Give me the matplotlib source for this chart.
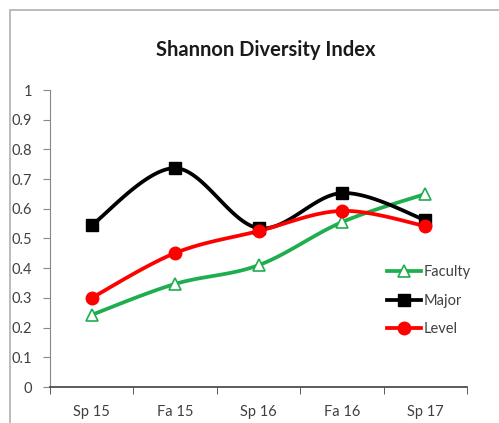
import numpy as np
import matplotlib
matplotlib.use("Agg")
import matplotlib.pyplot as plt
from matplotlib.patches import Rectangle

categories = ["Sp 15", "Fa 15", "Sp 16", "Fa 16", "Sp 17"]
faculty = [0.243, 0.347, 0.410, 0.555, 0.650]
major = [0.545, 0.737, 0.535, 0.653, 0.562]
level = [0.300, 0.451, 0.525, 0.593, 0.542]
yticks = [0, 0.1, 0.2, 0.3, 0.4, 0.5, 0.6, 0.7, 0.8, 0.9, 1]
ytick_labels = ["0", "0.1", "0.2", "0.3", "0.4", "0.5", "0.6", "0.7", "0.8", "0.9", "1"]

plt.rcParams['font.family'] = ['Lato', 'DejaVu Sans']

W, H = 499, 423
fig = plt.figure(figsize=(W / 100, H / 100), dpi=100)

# outer chart border
fig.patches.append(Rectangle((10 / W, -0.1), 1.2, (H - 10) / H + 0.1, transform=fig.transFigure,
                             fill=False, edgecolor='#b0b0b0', linewidth=1.2))

ax = fig.add_axes([50 / W, (H - 387) / H, (467 - 50) / W, (387 - 90) / H])


def smooth(x, y, n=30):
    x = np.asarray(x, float)
    y = np.asarray(y, float)
    px = np.concatenate([[x[0]], x, [x[-1]]])
    py = np.concatenate([[y[0]], y, [y[-1]]])
    xs, ys = [], []
    t = np.linspace(0, 1, n)
    for i in range(1, len(x)):
        p0 = np.array([px[i], py[i]])
        p3 = np.array([px[i + 1], py[i + 1]])
        c1 = p0 + (np.array([px[i + 1], py[i + 1]]) - np.array([px[i - 1], py[i - 1]])) / 6
        c2 = p3 - (np.array([px[i + 2], py[i + 2]]) - np.array([px[i], py[i]])) / 6
        b = ((1 - t) ** 3)[:, None] * p0 + (3 * (1 - t) ** 2 * t)[:, None] * c1 + \
            (3 * (1 - t) * t ** 2)[:, None] * c2 + (t ** 3)[:, None] * p3
        xs.extend(b[:, 0])
        ys.extend(b[:, 1])
    return np.array(xs), np.array(ys)


xpos = np.arange(len(categories))
green = '#1fae4f'
series = [
    ("Faculty", faculty, green, '^', dict(markerfacecolor='white', markeredgecolor=green, markersize=9, markeredgewidth=1.2)),
    ("Major", major, 'black', 's', dict(markerfacecolor='black', markeredgecolor='black', markersize=9)),
    ("Level", level, '#ff0000', 'o', dict(markerfacecolor='#ff0000', markeredgecolor='#ff0000', markersize=9)),
]
handles = []
for name, vals, col, mk, kw in series:
    sx, sy = smooth(xpos, vals)
    ax.plot(sx, sy, color=col, linewidth=2.7, zorder=2)
    ax.plot(xpos, vals, linestyle='none', marker=mk, zorder=3, **kw)
    h, = ax.plot([], [], color=col, linewidth=2.7, marker=mk, **kw)
    handles.append((h, name))

ax.set_xlim(-0.5, len(categories) - 0.5)
ax.set_ylim(0, 1)
ax.set_yticks(yticks)
ax.set_yticklabels(ytick_labels)
ax.set_xticks(xpos)
ax.set_xticklabels(categories)
ax.set_xticks(np.arange(-0.5, len(categories)), minor=True)
ax.tick_params(axis='x', which='major', length=0, pad=13, labelsize=10.5, labelcolor='#404040')
ax.tick_params(axis='x', which='minor', length=5, direction='out', color='#404040')
ax.tick_params(axis='y', length=5, direction='out', color='#888888', labelsize=10.5, labelcolor='#404040', pad=8)
for s in ['top', 'right']:
    ax.spines[s].set_visible(False)
ax.spines['left'].set_color('#888888')
ax.spines['bottom'].set_color('#404040')
ax.spines['bottom'].set_linewidth(1.2)

fig.text(266 / W, 1 - 50 / H, "Shannon Diversity Index", ha='center', va='center',
         fontsize=14.5, fontweight='bold', color='#1a1a1a')

leg = ax.legend([h for h, _ in handles], [n for _, n in handles], loc='upper left',
                bbox_to_anchor=((380 - 50) / (467 - 50), (387 - 258) / (387 - 90)),
                frameon=False, fontsize=10.5, handlelength=2.3, handletextpad=0.2,
                labelspacing=1.0, borderpad=0)
for t in leg.get_texts():
    t.set_color('#404040')

fig.savefig("out.png", dpi=100)
